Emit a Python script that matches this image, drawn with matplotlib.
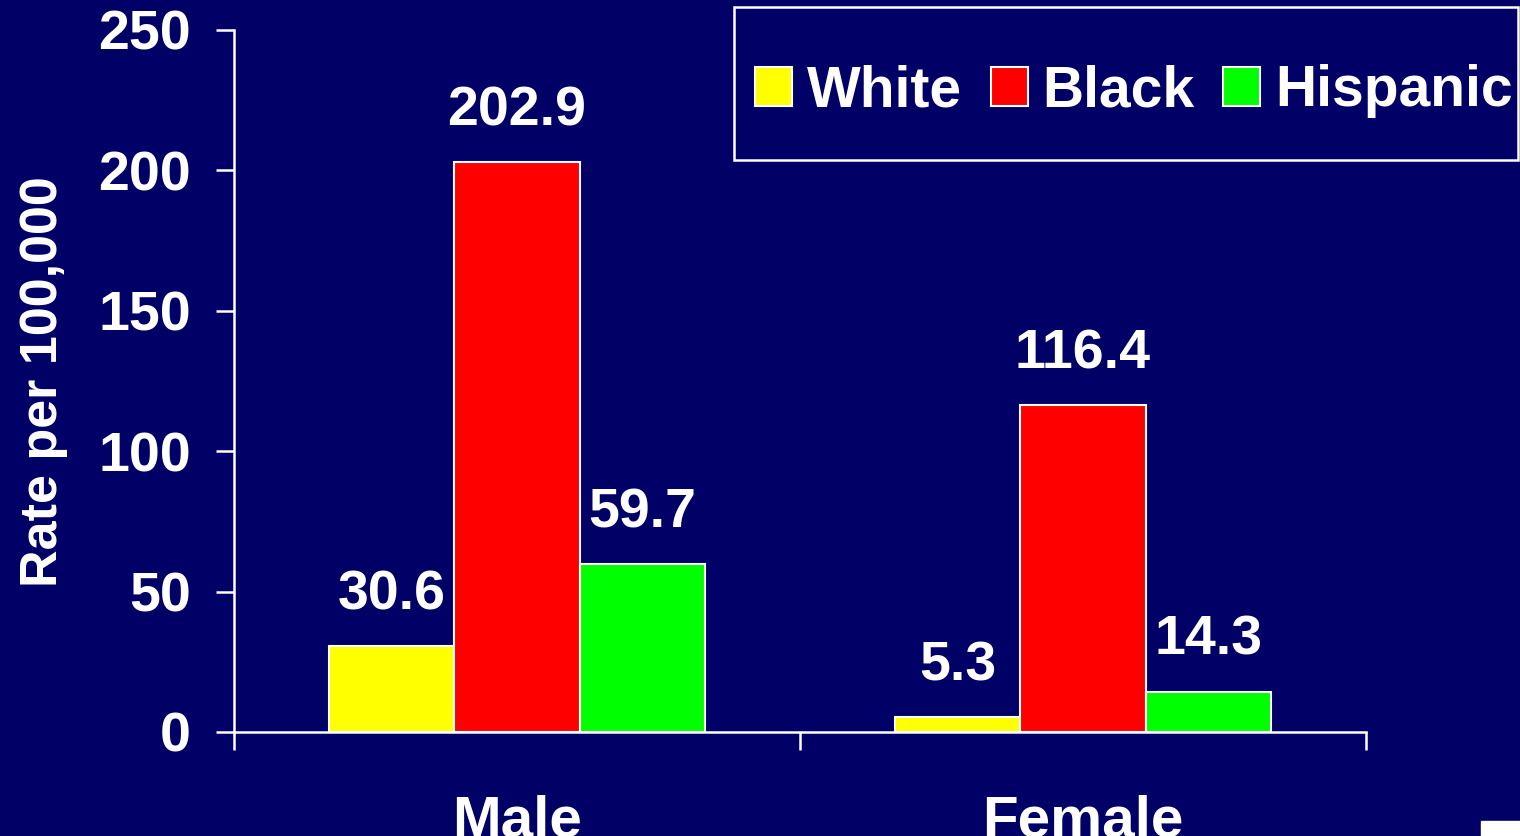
"""
Rate per 100,000 by sex and race/ethnicity - grouped bar chart
"""

import numpy as np
import matplotlib
matplotlib.use("Agg")
import matplotlib.pyplot as plt
from matplotlib.patches import Rectangle

# -----------------------
# Data
# -----------------------
groups = ["Male", "Female"]
races = ["White", "Black", "Hispanic"]
white = [30.6, 5.3]
black = [202.9, 116.4]
hispanic = [59.7, 14.3]
yticks = [0, 50, 100, 150, 200, 250]

# -----------------------
# Style
# -----------------------
BG = "#000066"
colors = ["#FFFF00", "#FF0000", "#00FF00"]
plt.rcParams["font.family"] = ["Liberation Sans", "DejaVu Sans"]
plt.rcParams["font.weight"] = "bold"

W, H = 1520, 836
fig = plt.figure(figsize=(W / 100, H / 100), dpi=100, facecolor=BG)
ax = fig.add_axes([234 / W, 1 - 732 / H, (1366 - 234) / W, (732 - 30) / H])
ax.set_facecolor(BG)

centers = np.arange(len(groups)) + 0.5
width = 0.222
series = [white, black, hispanic]

for i, (vals, c, name) in enumerate(zip(series, colors, races)):
    xs = centers + (i - 1) * width
    bars = ax.bar(xs, vals, width, color=c, edgecolor="white", linewidth=1.5, label=name)
    for b, v in zip(bars, vals):
        ax.annotate(f"{v:.1f}", (b.get_x() + b.get_width() / 2, v),
                    xytext=(0, 18), textcoords="offset points",
                    ha="center", va="bottom", color="white",
                    fontsize=40, fontweight="bold")

# -----------------------
# Axes
# -----------------------
ax.set_xlim(0, len(groups))
ax.set_ylim(0, 250)
ax.set_yticks(yticks)
ax.set_xticks([0, 1, 2])
ax.set_xticklabels([])
ax.set_xticks(centers, minor=True)
ax.set_xticklabels(groups, minor=True)

for s in ["top", "right"]:
    ax.spines[s].set_visible(False)
for s in ["left", "bottom"]:
    ax.spines[s].set_color("white")
    ax.spines[s].set_linewidth(1.8)

ax.tick_params(axis="y", colors="white", length=13, width=1.8, pad=18, labelsize=40)
ax.tick_params(axis="x", which="major", colors="white", length=13, width=1.8)
ax.tick_params(axis="x", which="minor", colors="white", length=0, pad=45, labelsize=42)
for lbl in ax.get_yticklabels() + ax.get_xticklabels(minor=True):
    lbl.set_fontweight("bold")

fig.text(44 / W, 1 - 382 / H, "Rate per 100,000", rotation=90,
         ha="center", va="center", color="white", fontsize=37.5, fontweight="bold")

# -----------------------
# Legend (frame drawn separately so its size matches the reference box)
# -----------------------
lx0, ly0, lx1, ly1 = 734, 7, 1518, 160
fig.patches.append(Rectangle((lx0 / W, 1 - ly1 / H), (lx1 - lx0) / W, (ly1 - ly0) / H,
                             transform=fig.transFigure, facecolor=BG,
                             edgecolor="white", linewidth=1.8))
leg = fig.legend(loc="center",
                 bbox_to_anchor=((lx0 + 8) / W, 1 - (ly1 + 8) / H, (lx1 - lx0) / W, (ly1 - ly0) / H),
                 ncol=3, frameon=False, fontsize=41,
                 handlelength=0.65, handleheight=0.65, handletextpad=0.26,
                 columnspacing=0.5, borderpad=0, borderaxespad=0)
for t in leg.get_texts():
    t.set_color("white")
    t.set_fontweight("bold")

# small white mark bottom-right
fig.patches.append(Rectangle((1481 / W, 0), 39 / W, 15 / H,
                             transform=fig.transFigure, color="white"))

fig.savefig("out.png", dpi=100, facecolor=BG)
